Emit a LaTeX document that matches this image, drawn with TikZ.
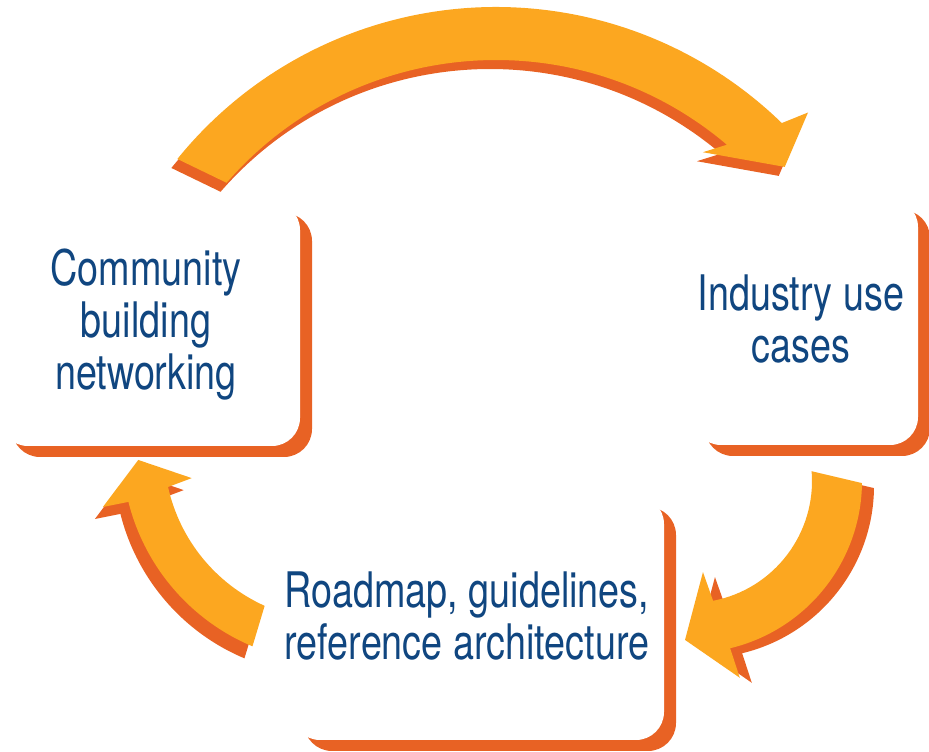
\documentclass[tikz,border=0pt]{standalone}
\usepackage{fontspec}
\setmainfont{TeX Gyre Heros}[FakeStretch=0.77]
\definecolor{arrowfill}{RGB}{252,167,32}
\definecolor{shadowfill}{RGB}{232,98,36}
\definecolor{textblue}{RGB}{16,70,128}
\begin{document}
\begin{tikzpicture}[x=1pt,y=1pt,
  box/.style={fill=white,rounded corners=28pt,inner sep=0pt},
  boxshadow/.style={box,fill=shadowfill},
  caption/.style={text=textblue,align=center,anchor=base,font=\fontsize{49}{52}\selectfont}]
  \useasboundingbox (0,0) rectangle (929,752);

  \node[boxshadow,minimum width=300pt,minimum height=244pt] (comm-shadow) at (162,417) {};
  \node[box,minimum width=300pt,minimum height=244pt] (comm) at (150,428) {};
  \node[boxshadow,minimum width=225pt,minimum height=246pt] (ind-shadow) at (817.5,419) {};
  \node[box,minimum width=225pt,minimum height=246pt] (ind) at (805.5,430) {};
  \node[boxshadow,minimum width=372pt,minimum height=244pt] (road-shadow) at (490,123) {};
  \node[box,minimum width=372pt,minimum height=244pt] (road) at (478,134) {};

  \node[caption] (comm-text) at (146,362) {Community\\building\\networking};
  \node[caption] (ind-text) at (801,389) {Industry use\\cases};
  \node[caption] (road-text) at (467,92) {Roadmap, guidelines,\\reference architecture};

  \begin{scope}[shift={(496,335)}]
    \foreach \col/\dx/\dy in {shadowfill/-6/-9, arrowfill/0/0}
      \fill[\col,shift={(\dx,\dy)}] (141:410) arc[start angle=141,end angle=45.8,radius=410]
        -- (44.3:436) -- (40.9:382) -- (52:336) -- (49.7:357)
        arc[start angle=49.7,end angle=139,radius=357] -- cycle;
  \end{scope}
  \begin{scope}[shift={(690,271)}]
    \foreach \col/\dx/\dy in {shadowfill/12/-5, arrowfill/0/0}
      \fill[\col,shift={(\dx,\dy)}] (-0.7:172) arc[start angle=-0.7,end angle=-76.5,radius=172]
        -- (-75.8:203) -- (-91.8:159) -- (-81.9:92) -- (-79.1:122)
        arc[start angle=-79.1,end angle=4.6,radius=122] -- cycle;
  \end{scope}
  \begin{scope}[shift={(335,302)}]
    \foreach \col/\dx/\dy in {shadowfill/-8/-12, arrowfill/0/0}
      \fill[\col,shift={(\dx,\dy)}] (247.2:213) arc[start angle=247.2,end angle=194.1,radius=213]
        -- (193.8:239) -- (182.9:197) -- (191.1:146) -- (192.5:171)
        arc[start angle=192.5,end angle=245.7,radius=171] -- cycle;
  \end{scope}
\end{tikzpicture}
\end{document}
